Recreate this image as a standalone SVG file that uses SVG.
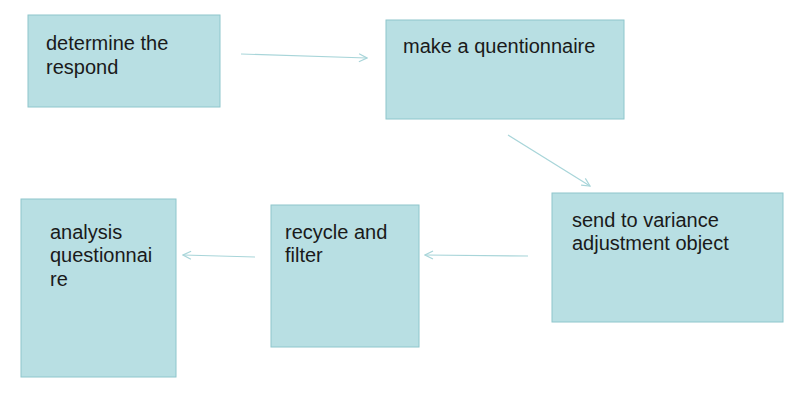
<svg xmlns="http://www.w3.org/2000/svg" width="800" height="400" viewBox="0 0 800 400">
<defs>
<style>
.box{fill:#b8dfe3;stroke:#8ec6cc;stroke-width:1}
.t{font-family:"Liberation Sans",Arial,sans-serif;font-size:20px;fill:#1a1a1a}
.c{fill:none;stroke:#a8d5d9;stroke-width:1.2}
</style>
<marker id="ah" viewBox="0 0 10 10" refX="9" refY="5" markerWidth="10" markerHeight="10" markerUnits="userSpaceOnUse" orient="auto">
<path d="M1,1 L9,5 L1,9" fill="none" stroke="#a8d5d9" stroke-width="1.2"/>
</marker>
</defs>
<rect width="800" height="400" fill="#ffffff"/>
<g id="connectors">
<line class="c" x1="241" y1="54" x2="367" y2="58" marker-end="url(#ah)"/>
<line class="c" x1="508" y1="135" x2="590" y2="186" marker-end="url(#ah)"/>
<line class="c" x1="528" y1="256" x2="425" y2="255" marker-end="url(#ah)"/>
<line class="c" x1="255" y1="257" x2="183" y2="255" marker-end="url(#ah)"/>
</g>
<g id="n1">
<rect class="box" x="28" y="15" width="192" height="92"/>
<text class="t" x="46" y="50">determine the</text>
<text class="t" x="46" y="74">respond</text>
</g>
<g id="n2">
<rect class="box" x="386" y="20" width="238" height="99"/>
<text class="t" x="403" y="53">make a quentionnaire</text>
</g>
<g id="n3">
<rect class="box" x="552" y="193" width="231" height="129"/>
<text class="t" x="572" y="227">send to variance</text>
<text class="t" x="572" y="250">adjustment object</text>
</g>
<g id="n4">
<rect class="box" x="271" y="205" width="148" height="142"/>
<text class="t" x="285" y="239">recycle and</text>
<text class="t" x="285" y="262">filter</text>
</g>
<g id="n5">
<rect class="box" x="21" y="199" width="155" height="178"/>
<text class="t" x="50" y="239">analysis</text>
<text class="t" x="50" y="262">questionnai</text>
<text class="t" x="50" y="286">re</text>
</g>
</svg>
